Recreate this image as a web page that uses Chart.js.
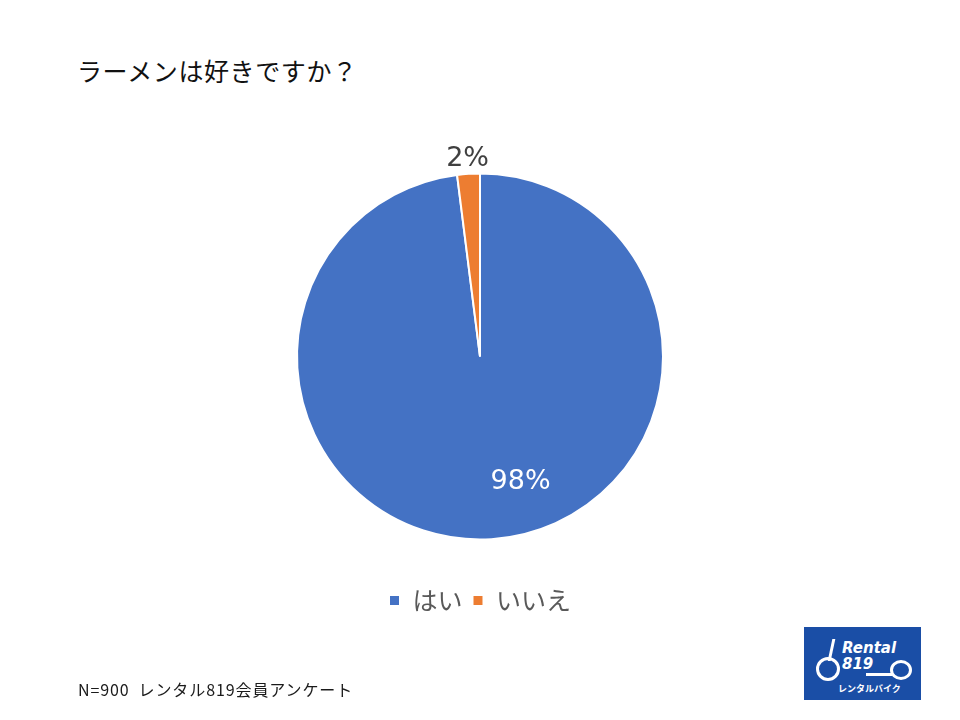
<!DOCTYPE html>
<html lang="ja">
<head>
<meta charset="utf-8">
<script src="https://cdn.jsdelivr.net/npm/chart.js@4/dist/chart.umd.min.js"></script>
<style>
  html, body { margin: 0; padding: 0; background: #fff; }
  #wrap { position: relative; width: 960px; height: 720px; overflow: hidden; font-family: "Noto Sans CJK JP", "Noto Sans", sans-serif; }
  #title { position: absolute; left: 77px; top: 52px; font-size: 25px; letter-spacing: 0.6px; color: #111; }
  #note { position: absolute; left: 78px; top: 677px; font-size: 16px; letter-spacing: 0.9px; color: #1a1a1a; }
  #logo { position: absolute; left: 804px; top: 627px; width: 117px; height: 73px; background: #1a4ea6; color: #fff; font-family: "DejaVu Sans", sans-serif; }
  #logo .r { position: absolute; left: 38px; top: 12px; font-size: 15px; font-weight: bold; font-style: italic; }
  #logo .n { position: absolute; left: 38px; top: 28px; font-size: 15px; font-weight: bold; font-style: italic; }
  #logo .k { position: absolute; left: 34px; top: 55px; font-size: 9px; font-weight: bold; font-family: "Noto Sans CJK JP", sans-serif; }
  #logo .w1 { position: absolute; left: 12px; top: 30px; width: 18px; height: 18px; border: 3px solid #fff; border-radius: 50%; }
  #logo .w2 { position: absolute; left: 86px; top: 33px; width: 16px; height: 14px; border: 3px solid #fff; border-radius: 50%; }
  #logo .bar { position: absolute; left: 62px; top: 46px; width: 26px; height: 3px; background: #fff; }
  #logo .st { position: absolute; left: 26px; top: 12px; width: 3px; height: 22px; background: #fff; transform: skewX(-12deg); }
  canvas { position: absolute; left: 0; top: 0; }
</style>
</head>
<body>
<div id="wrap">
  <div id="title">ラーメンは好きですか？</div>
  <canvas id="myChart" width="960" height="720"></canvas>
  <div id="note">N=900&nbsp;&nbsp;レンタル819会員アンケート</div>
  <div id="logo">
    <div class="st"></div>
    <div class="w1"></div><div class="w2"></div><div class="bar"></div>
    <div class="r">Rental</div>
    <div class="n">819</div>
    <div class="k">レンタルバイク</div>
  </div>
</div>
<script>
const categories = ["はい", "いいえ"];
const shares = [98, 2];
const sliceColors = ["#4472C4", "#ED7D31"];

// label placement: radius factor and angle shift (rad) relative to slice middle
const labelSpots = [
  { r: 0.72, shift: -0.25, color: "#ffffff" },
  { r: 1.08, shift: 0, color: "#404040" },
];

const pieLabels = {
  id: "pieLabels",
  afterDatasetsDraw(chart) {
    const ctx = chart.ctx;
    const meta = chart.getDatasetMeta(0);
    ctx.save();
    ctx.font = '27px "DejaVu Sans", sans-serif';
    ctx.textAlign = "center";
    ctx.textBaseline = "middle";
    meta.data.forEach((arc, i) => {
      const p = arc.getProps(["x", "y", "startAngle", "endAngle", "outerRadius"], true);
      const a = (p.startAngle + p.endAngle) / 2 + labelSpots[i].shift;
      const rr = p.outerRadius * labelSpots[i].r;
      ctx.fillStyle = labelSpots[i].color;
      ctx.fillText(shares[i] + "%", p.x + Math.cos(a) * rr, p.y + Math.sin(a) * rr);
    });
    ctx.restore();
  },
};

new Chart(document.getElementById("myChart").getContext("2d"), {
  type: "pie",
  data: {
    labels: categories,
    datasets: [{
      data: shares,
      backgroundColor: sliceColors,
      borderColor: "#ffffff",
      borderWidth: 2,
      radius: 183,
    }],
  },
  options: {
    responsive: false,
    animation: false,
    layout: { padding: { top: 135, bottom: 97, left: 0, right: 0 } },
    plugins: {
      legend: {
        position: "bottom",
        labels: {
          color: "#595959",
          font: { size: 25, family: '"Noto Sans CJK JP", sans-serif' },
          boxWidth: 11,
          boxHeight: 11,
          padding: 10,
        },
      },
      tooltip: { enabled: false },
    },
  },
  plugins: [pieLabels],
});
</script>
</body>
</html>
